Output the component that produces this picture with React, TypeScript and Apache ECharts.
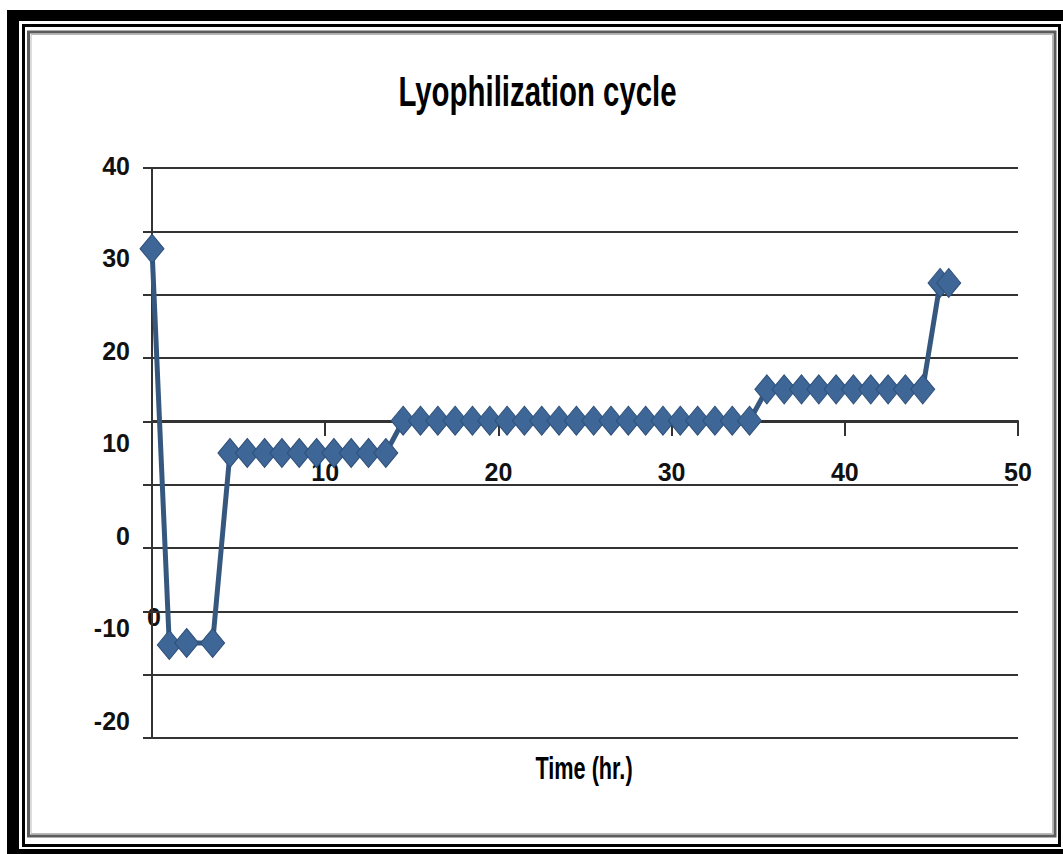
import React, { useEffect, useRef } from "react";
import * as echarts from "echarts";

const timeHr = [
  0, 1, 2, 3.5,
  4.5, 5.5, 6.5, 7.5, 8.5, 9.5, 10.5, 11.5, 12.5, 13.5,
  14.5, 15.5, 16.5, 17.5, 18.5, 19.5, 20.5, 21.5, 22.5, 23.5, 24.5,
  25.5, 26.5, 27.5, 28.5, 29.5, 30.5, 31.5, 32.5, 33.5, 34.5,
  35.5, 36.5, 37.5, 38.5, 39.5, 40.5, 41.5, 42.5, 43.5, 44.5,
  45.5, 46,
];

const temperature = [
  31.5, -10.2, -10, -10,
  10, 10, 10, 10, 10, 10, 10, 10, 10, 10,
  13.4, 13.4, 13.4, 13.4, 13.4, 13.4, 13.4, 13.4, 13.4, 13.4, 13.4,
  13.4, 13.4, 13.4, 13.4, 13.4, 13.4, 13.4, 13.4, 13.4, 13.4,
  16.7, 16.7, 16.7, 16.7, 16.7, 16.7, 16.7, 16.7, 16.7, 16.7,
  27.9, 27.9,
];

const titleText = "Lyophilization cycle";
const xAxisTitle = "Time (hr.)";
const yMin = -20;
const yMax = 40;
const yStep = 10;
const xMin = 0;
const xMax = 50;
const xStep = 10;
// gridline axis: 9 equal bands
const gridLineMin = -5;
const gridLineMax = 4;

const labelFont = "'Liberation Sans', Arial, sans-serif";
const lineColor = "#333333";

export default function App() {
  const ref = useRef<HTMLDivElement>(null);

  useEffect(() => {
    if (!ref.current) return;
    const chart = echarts.init(ref.current, undefined, { renderer: "svg" });
    const data = timeHr.map((t, i) => [t, temperature[i]]);

    chart.setOption({
      animation: false,
      backgroundColor: "#ffffff",
      grid: [
        { left: 152, right: 45, top: 168, bottom: 116, containLabel: false },
        { left: 152, right: 45, top: 166, bottom: 133.5, containLabel: false },
      ],
      xAxis: [
        {
          type: "value",
          gridIndex: 0,
          min: xMin,
          max: xMax,
          interval: xStep,
          position: "bottom",
          offset: -317,
          axisLine: {
            show: true,
            onZero: false,
            lineStyle: { color: lineColor, width: 2 },
          },
          axisTick: { show: true, inside: false, length: 15, lineStyle: { color: lineColor, width: 2 } },
          axisLabel: {
            show: true,
            showMinLabel: false,
            margin: 38,
            fontFamily: labelFont,
            fontWeight: "bold",
            fontSize: 25,
            color: "#111111",
          },
          splitLine: { show: false },
        },
        {
          type: "value",
          gridIndex: 1,
          min: xMin,
          max: xMax,
          show: false,
        },
      ],
      yAxis: [
        {
          type: "value",
          gridIndex: 0,
          min: gridLineMin,
          max: gridLineMax,
          interval: 1,
          position: "left",
          axisLine: { show: true, onZero: false, lineStyle: { color: lineColor, width: 2 } },
          axisTick: { show: true, inside: false, length: 9, lineStyle: { color: lineColor, width: 2 } },
          axisLabel: { show: false },
          splitLine: { show: true, lineStyle: { color: lineColor, width: 2 } },
        },
        {
          type: "value",
          gridIndex: 1,
          min: yMin,
          max: yMax,
          interval: yStep,
          position: "left",
          axisLine: { show: false, onZero: false },
          axisTick: { show: false },
          splitLine: { show: false },
          axisLabel: {
            show: true,
            margin: 22,
            fontFamily: labelFont,
            fontWeight: "bold",
            fontSize: 25,
            color: "#111111",
          },
        },
        {
          type: "value",
          gridIndex: 0,
          min: yMin,
          max: yMax,
          show: false,
          splitLine: { show: false },
        },
      ],
      series: [
        {
          type: "line",
          name: "Temperature",
          xAxisIndex: 0,
          yAxisIndex: 2,
          data,
          symbol: "diamond",
          symbolSize: [24, 29],
          lineStyle: { color: "#36587f", width: 5 },
          itemStyle: { color: "#3e6798", borderColor: "#2f5079", borderWidth: 1 },
          z: 5,
        },
      ],
      graphic: [
        // outer thick black frame
        { type: "rect", shape: { x: 7, y: 10, width: 1056, height: 11 }, style: { fill: "#000" }, silent: true },
        { type: "rect", shape: { x: 7, y: 10, width: 12, height: 844 }, style: { fill: "#000" }, silent: true },
        { type: "rect", shape: { x: 7, y: 849, width: 1056, height: 5 }, style: { fill: "#000" }, silent: true },
        // thin black frame
        {
          type: "rect",
          shape: { x: 23.5, y: 25.5, width: 1036, height: 820 },
          style: { fill: "none", stroke: "#000", lineWidth: 3 },
          silent: true,
        },
        // inner grey frame
        {
          type: "rect",
          shape: { x: 28.5, y: 32, width: 1026.5, height: 804 },
          style: { fill: "none", stroke: "#5c5c5c", lineWidth: 3 },
          silent: true,
        },
        {
          type: "rect",
          shape: { x: 31, y: 34.5, width: 1021.5, height: 799 },
          style: { fill: "none", stroke: "#b8b8b8", lineWidth: 1 },
          silent: true,
        },
        {
          type: "text",
          x: 537.5,
          y: 92,
          scaleX: 0.7,
          style: {
            text: titleText,
            x: 0,
            y: 0,
            align: "center",
            verticalAlign: "middle",
            fontFamily: "'Liberation Sans', Arial, sans-serif",
            fontWeight: "bold",
            fontSize: 42,
            fill: "#000",
          },
        },
        {
          type: "text",
          x: 584,
          y: 769,
          scaleX: 0.7,
          style: {
            text: xAxisTitle,
            x: 0,
            y: 0,
            align: "center",
            verticalAlign: "middle",
            fontFamily: "'Liberation Sans', Arial, sans-serif",
            fontWeight: "bold",
            fontSize: 31,
            fill: "#000",
          },
        },
        {
          type: "text",
          x: 154,
          y: 617,
          style: {
            text: "0",
            x: 0,
            y: 0,
            align: "center",
            verticalAlign: "middle",
            fontFamily: labelFont,
            fontWeight: "bold",
            fontSize: 25,
            fill: "#111111",
          },
        },
      ],
    });

    return () => chart.dispose();
  }, []);

  return (
    <div
      ref={ref}
      style={{ position: "fixed", left: 0, top: 0, width: 1063, height: 854, background: "#fff" }}
    />
  );
}
